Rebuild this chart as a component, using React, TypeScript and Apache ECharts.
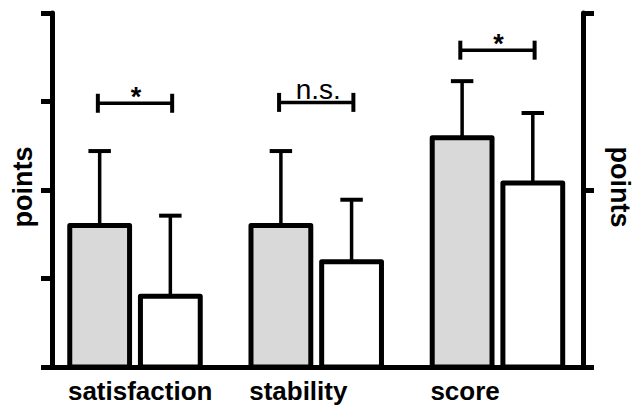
import React, { useEffect, useRef } from "react";
import * as echarts from "echarts";

const categories = ["satisfaction", "stability", "score"];
const groupAMean = [1.6, 1.6, 2.59];
const groupASd = [0.84, 0.84, 0.64];
const groupBMean = [0.8, 1.19, 2.08];
const groupBSd = [0.91, 0.7, 0.79];
const sigLevel = [2.98, 2.99, 3.58];
const sigLabel = ["*", "n.s.", "*"];
const axisTitle = "points";

const FONT = "'Liberation Sans', Arial, Helvetica, sans-serif";
const OFF = 0.195;
const HALF_W = 0.165;
const CAP = 0.062;

export default function App() {
  const ref = useRef<HTMLDivElement>(null);

  useEffect(() => {
    if (!ref.current) return;
    const chart = echarts.init(ref.current, undefined, { renderer: "svg" });

    const barData: number[][] = [];
    categories.forEach((_, i) => {
      barData.push([i, groupAMean[i], groupASd[i], 0]);
      barData.push([i, groupBMean[i], groupBSd[i], 1]);
    });
    const sigData = categories.map((_, i) => [i, sigLevel[i]]);
    const catData = categories.map((_, i) => [i, 0]);

    const option: any = {
      animation: false,
      backgroundColor: "#ffffff",
      grid: { left: 52, right: 56, top: 13, bottom: 39, containLabel: false },
      xAxis: {
        type: "value",
        min: 0.042,
        max: 2.972,
        axisLine: { show: true, onZero: false, lineStyle: { color: "#000", width: 5 } },
        axisTick: { show: false },
        axisLabel: { show: false },
        splitLine: { show: false },
      },
      yAxis: [
        {
          type: "value",
          position: "left",
          min: 0,
          max: 4,
          interval: 1,
          axisLine: { show: true, onZero: false, lineStyle: { color: "#000", width: 5 } },
          axisTick: { show: true, length: 11, lineStyle: { color: "#000", width: 5 } },
          axisLabel: { show: false },
          splitLine: { show: false },
        },
        {
          type: "value",
          position: "right",
          min: 0,
          max: 4,
          interval: 2,
          axisLine: { show: true, onZero: false, lineStyle: { color: "#000", width: 5 } },
          axisTick: { show: true, length: 11, lineStyle: { color: "#000", width: 5 } },
          axisLabel: { show: false },
          splitLine: { show: false },
        },
      ],
      series: [
        {
          type: "custom",
          xAxisIndex: 0,
          yAxisIndex: 0,
          clip: false,
          data: barData,
          renderItem: (params: any, api: any) => {
            const i = api.value(0);
            const mean = api.value(1);
            const sd = api.value(2);
            const g = api.value(3);
            const cx = i + 0.5 + (g === 0 ? -OFF : OFF);
            const tl = api.coord([cx - HALF_W, mean]);
            const br = api.coord([cx + HALF_W, 0]);
            const base = api.coord([cx, mean]);
            const top = api.coord([cx, mean + sd]);
            const cl = api.coord([cx - CAP, mean + sd]);
            const cr = api.coord([cx + CAP, mean + sd]);
            return {
              type: "group",
              children: [
                {
                  type: "line",
                  shape: { x1: base[0], y1: base[1], x2: top[0], y2: top[1] },
                  style: { stroke: "#000", lineWidth: 3.5 },
                },
                {
                  type: "line",
                  shape: { x1: cl[0], y1: cl[1], x2: cr[0], y2: cr[1] },
                  style: { stroke: "#000", lineWidth: 4 },
                },
                {
                  type: "rect",
                  shape: { x: tl[0], y: tl[1], width: br[0] - tl[0], height: br[1] - tl[1] },
                  style: {
                    fill: g === 0 ? "#d9d9d9" : "#ffffff",
                    stroke: "#000",
                    lineWidth: 5,
                    lineJoin: "round",
                  },
                },
              ],
            };
          },
        },
        {
          type: "custom",
          xAxisIndex: 0,
          yAxisIndex: 0,
          clip: false,
          data: sigData,
          renderItem: (params: any, api: any) => {
            const i = api.value(0);
            const lvl = api.value(1);
            const c = i + 0.5;
            const l = api.coord([c - 0.205, lvl]);
            const r = api.coord([c + 0.205, lvl]);
            const mid = api.coord([c, lvl]);
            const label = sigLabel[params.dataIndex];
            const isStar = label === "*";
            return {
              type: "group",
              children: [
                {
                  type: "line",
                  shape: { x1: l[0], y1: l[1], x2: r[0], y2: r[1] },
                  style: { stroke: "#000", lineWidth: 3.5 },
                },
                {
                  type: "line",
                  shape: { x1: l[0], y1: l[1] - 9.5, x2: l[0], y2: l[1] + 9.5 },
                  style: { stroke: "#000", lineWidth: 4 },
                },
                {
                  type: "line",
                  shape: { x1: r[0], y1: r[1] - 9.5, x2: r[0], y2: r[1] + 9.5 },
                  style: { stroke: "#000", lineWidth: 4 },
                },
                {
                  type: "text",
                  x: mid[0] + (isStar ? 1 : 2),
                  y: isStar ? mid[1] - 6 : mid[1] + 1,
                  style: {
                    text: label,
                    align: "center",
                    verticalAlign: isStar ? "middle" : "bottom",
                    fill: "#000",
                    font: isStar ? `bold 27px ${FONT}` : `28px ${FONT}`,
                  },
                },
              ],
            };
          },
        },
        {
          type: "custom",
          xAxisIndex: 0,
          yAxisIndex: 0,
          clip: false,
          data: catData,
          renderItem: (params: any, api: any) => {
            const i = api.value(0);
            const p = api.coord([i + 0.5 - 0.37, -0.42]);
            return {
              type: "text",
              x: p[0],
              y: p[1],
              style: {
                text: categories[params.dataIndex],
                align: "left",
                verticalAlign: "bottom",
                fill: "#000",
                font: `bold 26px ${FONT}`,
              },
            };
          },
        },
      ],
      graphic: [
        {
          type: "text",
          x: 23,
          y: 187,
          rotation: Math.PI / 2,
          style: {
            text: axisTitle,
            align: "center",
            verticalAlign: "middle",
            fill: "#000",
            font: `bold 27px ${FONT}`,
          },
        },
        {
          type: "text",
          x: 620,
          y: 187,
          rotation: -Math.PI / 2,
          style: {
            text: axisTitle,
            align: "center",
            verticalAlign: "middle",
            fill: "#000",
            font: `bold 27px ${FONT}`,
          },
        },
      ],
    };

    chart.setOption(option);
    return () => chart.dispose();
  }, []);

  return (
    <div
      ref={ref}
      style={{ position: "fixed", left: 0, top: 0, width: 639, height: 406, background: "#fff" }}
    />
  );
}
